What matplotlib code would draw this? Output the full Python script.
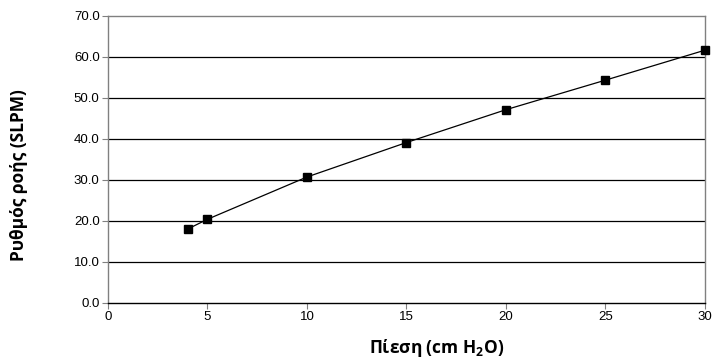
import matplotlib
matplotlib.use("Agg")
import matplotlib.pyplot as plt

pressure = [4, 5, 10, 15, 20, 25, 30]
flow = [18.0, 20.4, 30.7, 39.1, 47.1, 54.3, 61.6]
x_ticks = [0, 5, 10, 15, 20, 25, 30]
y_ticks = [0, 10, 20, 30, 40, 50, 60, 70]

plt.rcParams['mathtext.fontset'] = 'custom'
plt.rcParams['mathtext.rm'] = 'Open Sans:bold'

fig = plt.figure(figsize=(7.15, 3.61), dpi=100)
ax = fig.add_axes([0.151, 0.1607, 0.835, 0.7958])

for y in y_ticks[1:-1]:
    ax.axhline(y, color='black', lw=0.9, zorder=1)

ax.plot(pressure, flow, color='black', lw=0.9, marker='s', markersize=5.5,
        markerfacecolor='black', markeredgecolor='black', zorder=3, clip_on=False)

ax.set_xlim(0, 30)
ax.set_ylim(0, 70)
ax.set_xticks(x_ticks)
ax.set_yticks(y_ticks)
ax.set_yticklabels([f"{v:.1f}" for v in y_ticks])
for s in ax.spines.values():
    s.set_color('#808080')
    s.set_linewidth(1)
ax.spines['bottom'].set_color('black')
ax.tick_params(axis='both', direction='out', length=4, width=0.8, color='#808080',
               labelsize=9.5, pad=2)
for lab in ax.get_xticklabels() + ax.get_yticklabels():
    lab.set_fontfamily('Liberation Sans')

# labels sit a bit off-centre in the original
ax.set_xlabel("Πίεση (cm H$_\\mathrm{2}$O)", fontfamily='Open Sans', fontweight='bold',
              fontsize=12.5, labelpad=10, x=0.55)
ax.set_ylabel("Ρυθμός ροής (SLPM)", fontfamily='Open Sans', fontweight='bold',
              fontsize=12.5, labelpad=33, y=0.445)

fig.savefig("out.png", dpi=100)
